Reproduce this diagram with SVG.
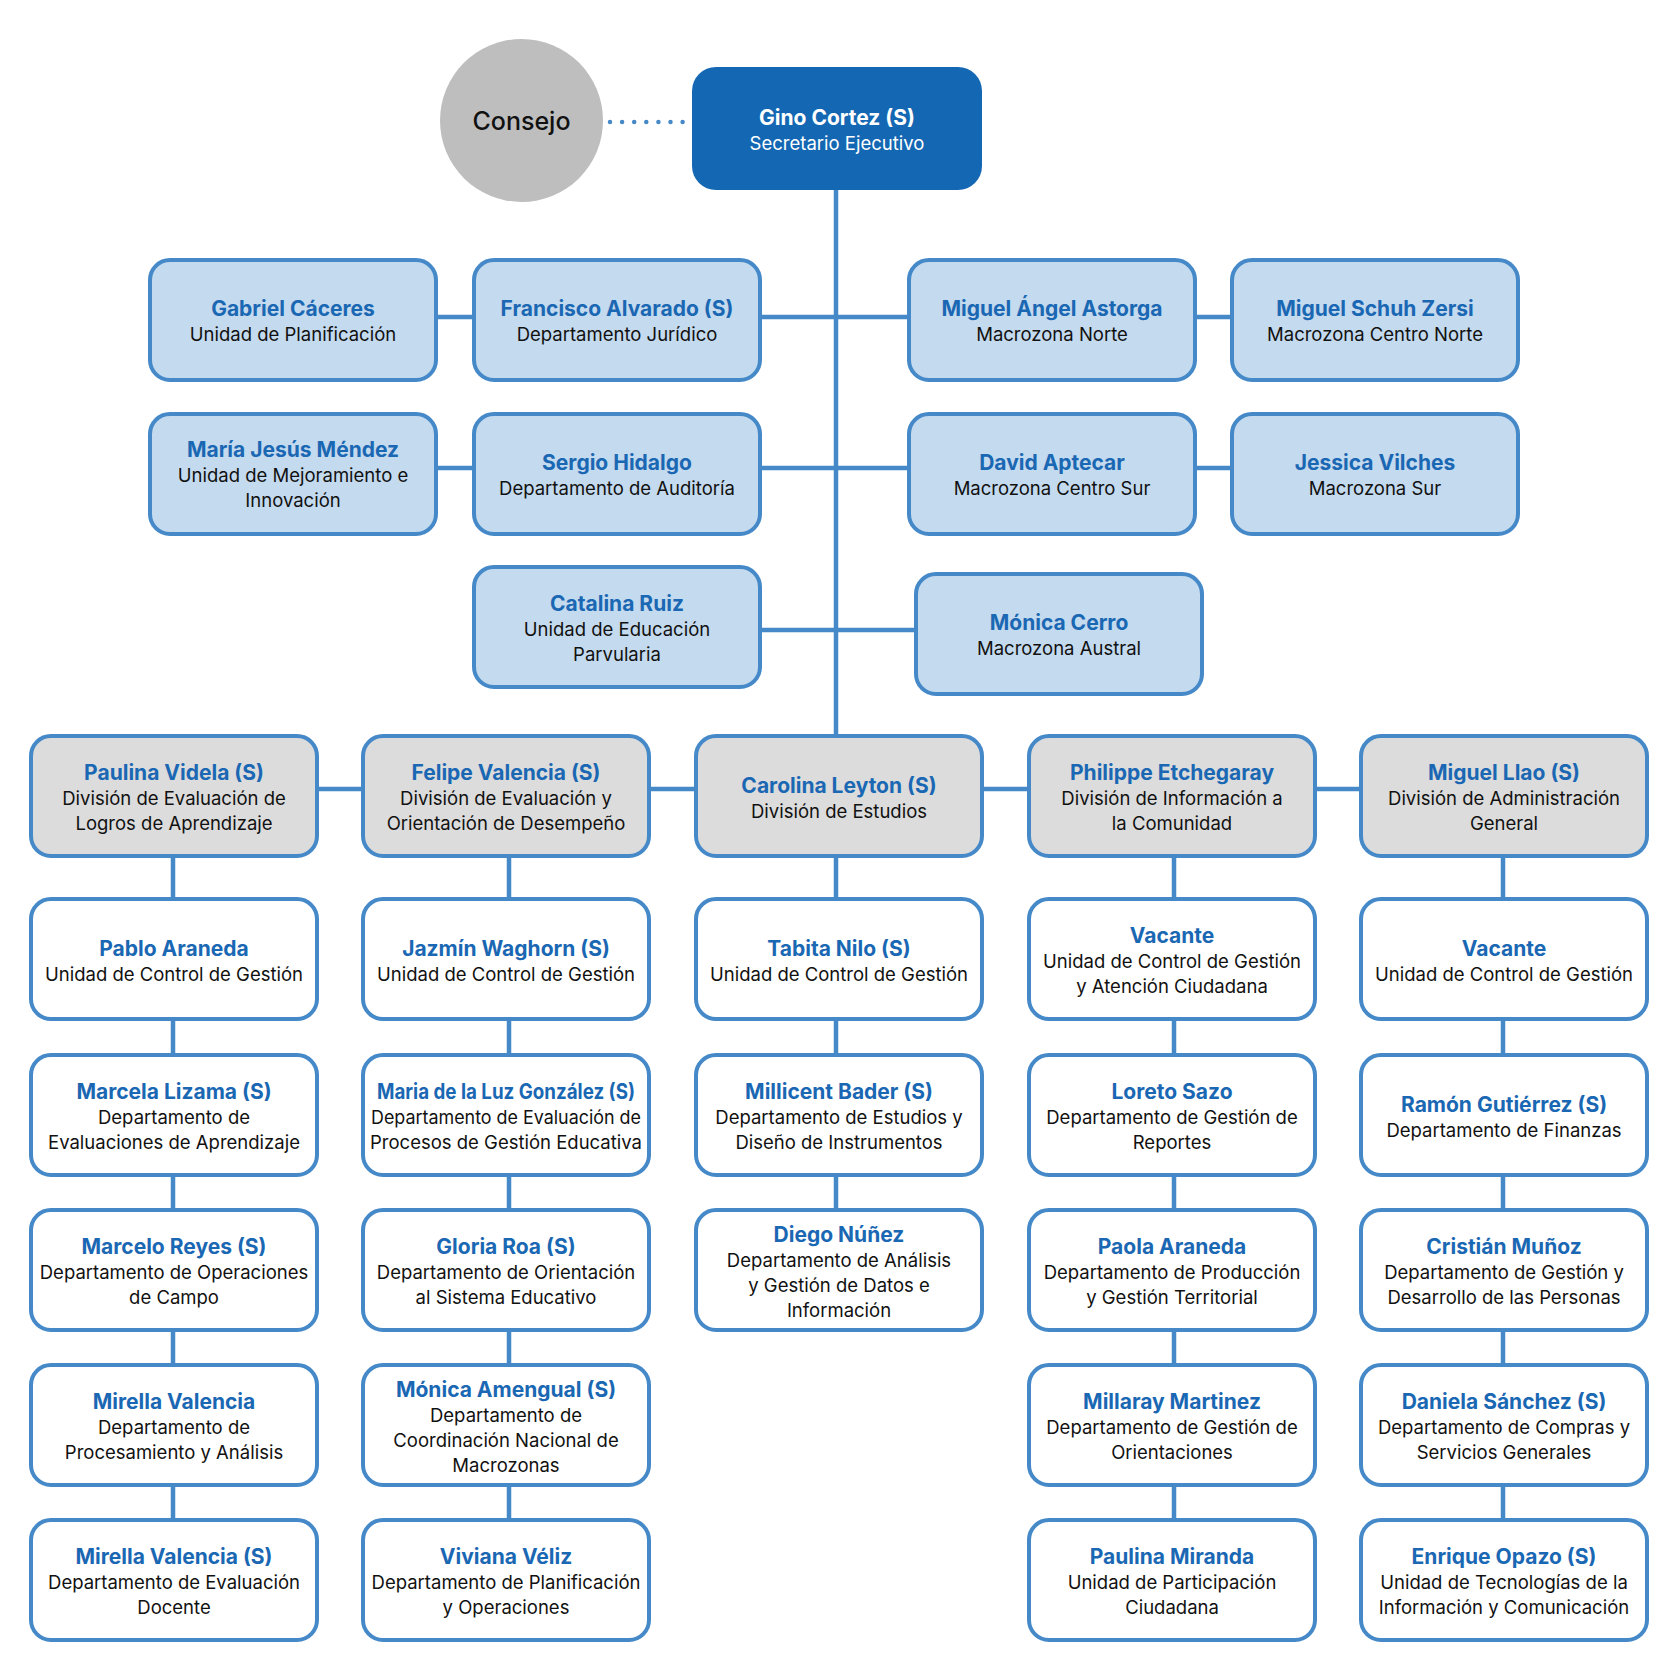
<svg xmlns="http://www.w3.org/2000/svg" width="1667" height="1667" viewBox="0 0 1667 1667">
<style>
text{font-family:Inter,"Noto Sans","Liberation Sans",sans-serif;text-anchor:middle}
.nm{font-weight:700;font-size:21px;fill:#1A67B3}
.sb{font-size:18.5px;fill:#111}
.lb{fill:#C4DAEE;stroke:#4589C8;stroke-width:4}
.gr{fill:#DCDCDC;stroke:#4589C8;stroke-width:4}
.wh{fill:#FFFFFF;stroke:#4589C8;stroke-width:4}
.cn{stroke:#4589C8;stroke-width:4.5;fill:none}
</style>
<rect width="1667" height="1667" fill="#fff"/>
<g id="connectors">
<path class="cn" d="M610 122H685" stroke-width="7.5" stroke-linecap="round" stroke-dasharray="0 12.1"/>
<path class="cn" d="M836 190V736"/>
<path class="cn" d="M436 317H1232"/>
<path class="cn" d="M436 468H1232"/>
<path class="cn" d="M760 630H916"/>
<path class="cn" d="M317 789H1361"/>
<path class="cn" d="M173 856V1520"/>
<path class="cn" d="M509 856V1520"/>
<path class="cn" d="M836 856V1210"/>
<path class="cn" d="M1174 856V1520"/>
<path class="cn" d="M1503 856V1520"/>
</g>
<g id="consejo"><circle cx="521.5" cy="120.5" r="81.5" fill="#BEBEBE"/><text x="521.5" y="130" font-size="25" font-weight="500" fill="#111">Consejo</text></g>
<g id="gino"><rect x="692" y="67" width="290" height="123" rx="24" fill="#1467B3"/><text class="nm" x="837" y="125" style="fill:#fff">Gino Cortez (S)</text><text class="sb" x="837" y="150" style="fill:#fff">Secretario Ejecutivo</text></g>

<g id="gabriel"><rect class="lb" x="150" y="260" width="286" height="120" rx="20"/><text class="nm" x="293" y="316">Gabriel Cáceres</text><text class="sb" x="293" y="341">Unidad de Planificación</text></g>
<g id="francisco"><rect class="lb" x="474" y="260" width="286" height="120" rx="20"/><text class="nm" x="617" y="316">Francisco Alvarado (S)</text><text class="sb" x="617" y="341">Departamento Jurídico</text></g>
<g id="miguel-angel"><rect class="lb" x="909" y="260" width="286" height="120" rx="20"/><text class="nm" x="1052" y="316">Miguel Ángel Astorga</text><text class="sb" x="1052" y="341">Macrozona Norte</text></g>
<g id="miguel-schuh"><rect class="lb" x="1232" y="260" width="286" height="120" rx="20"/><text class="nm" x="1375" y="316">Miguel Schuh Zersi</text><text class="sb" x="1375" y="341">Macrozona Centro Norte</text></g>

<g id="maria-jesus"><rect class="lb" x="150" y="414" width="286" height="120" rx="20"/><text class="nm" x="293" y="457">María Jesús Méndez</text><text class="sb" x="293" y="482">Unidad de Mejoramiento e</text><text class="sb" x="293" y="507">Innovación</text></g>
<g id="sergio"><rect class="lb" x="474" y="414" width="286" height="120" rx="20"/><text class="nm" x="617" y="470">Sergio Hidalgo</text><text class="sb" x="617" y="495">Departamento de Auditoría</text></g>
<g id="david"><rect class="lb" x="909" y="414" width="286" height="120" rx="20"/><text class="nm" x="1052" y="470">David Aptecar</text><text class="sb" x="1052" y="495">Macrozona Centro Sur</text></g>
<g id="jessica"><rect class="lb" x="1232" y="414" width="286" height="120" rx="20"/><text class="nm" x="1375" y="470">Jessica Vilches</text><text class="sb" x="1375" y="495">Macrozona Sur</text></g>

<g id="catalina"><rect class="lb" x="474" y="567" width="286" height="120" rx="20"/><text class="nm" x="617" y="611">Catalina Ruiz</text><text class="sb" x="617" y="636">Unidad de Educación</text><text class="sb" x="617" y="661">Parvularia</text></g>
<g id="monica-cerro"><rect class="lb" x="916" y="574" width="286" height="120" rx="20"/><text class="nm" x="1059" y="630">Mónica Cerro</text><text class="sb" x="1059" y="655">Macrozona Austral</text></g>

<g id="paulina-videla"><rect class="gr" x="31" y="736" width="286" height="120" rx="20"/><text class="nm" x="174" y="780">Paulina Videla (S)</text><text class="sb" x="174" y="805">División de Evaluación de</text><text class="sb" x="174" y="830">Logros de Aprendizaje</text></g>
<g id="felipe"><rect class="gr" x="363" y="736" width="286" height="120" rx="20"/><text class="nm" x="506" y="780">Felipe Valencia (S)</text><text class="sb" x="506" y="805">División de Evaluación y</text><text class="sb" x="506" y="830">Orientación de Desempeño</text></g>
<g id="carolina"><rect class="gr" x="696" y="736" width="286" height="120" rx="20"/><text class="nm" x="839" y="793">Carolina Leyton (S)</text><text class="sb" x="839" y="818">División de Estudios</text></g>
<g id="philippe"><rect class="gr" x="1029" y="736" width="286" height="120" rx="20"/><text class="nm" x="1172" y="780">Philippe Etchegaray</text><text class="sb" x="1172" y="805">División de Información a</text><text class="sb" x="1172" y="830">la Comunidad</text></g>
<g id="miguel-llao"><rect class="gr" x="1361" y="736" width="286" height="120" rx="20"/><text class="nm" x="1504" y="780">Miguel Llao (S)</text><text class="sb" x="1504" y="805">División de Administración</text><text class="sb" x="1504" y="830">General</text></g>

<g id="pablo"><rect class="wh" x="31" y="899" width="286" height="120" rx="20"/><text class="nm" x="174" y="956">Pablo Araneda</text><text class="sb" x="174" y="981">Unidad de Control de Gestión</text></g>
<g id="marcela"><rect class="wh" x="31" y="1055" width="286" height="120" rx="20"/><text class="nm" x="174" y="1099">Marcela Lizama (S)</text><text class="sb" x="174" y="1124">Departamento de</text><text class="sb" x="174" y="1149">Evaluaciones de Aprendizaje</text></g>
<g id="marcelo"><rect class="wh" x="31" y="1210" width="286" height="120" rx="20"/><text class="nm" x="174" y="1254">Marcelo Reyes (S)</text><text class="sb" x="174" y="1279">Departamento de Operaciones</text><text class="sb" x="174" y="1304">de Campo</text></g>
<g id="mirella-1"><rect class="wh" x="31" y="1365" width="286" height="120" rx="20"/><text class="nm" x="174" y="1409">Mirella Valencia</text><text class="sb" x="174" y="1434">Departamento de</text><text class="sb" x="174" y="1459">Procesamiento y Análisis</text></g>
<g id="mirella-2"><rect class="wh" x="31" y="1520" width="286" height="120" rx="20"/><text class="nm" x="174" y="1564">Mirella Valencia (S)</text><text class="sb" x="174" y="1589">Departamento de Evaluación</text><text class="sb" x="174" y="1614">Docente</text></g>

<g id="jazmin"><rect class="wh" x="363" y="899" width="286" height="120" rx="20"/><text class="nm" x="506" y="956">Jazmín Waghorn (S)</text><text class="sb" x="506" y="981">Unidad de Control de Gestión</text></g>
<g id="maria-luz"><rect class="wh" x="363" y="1055" width="286" height="120" rx="20"/><text class="nm" x="506" y="1099" textLength="258" lengthAdjust="spacingAndGlyphs">Maria de la Luz González (S)</text><text class="sb" x="506" y="1124" textLength="270" lengthAdjust="spacingAndGlyphs">Departamento de Evaluación de</text><text class="sb" x="506" y="1149">Procesos de Gestión Educativa</text></g>
<g id="gloria"><rect class="wh" x="363" y="1210" width="286" height="120" rx="20"/><text class="nm" x="506" y="1254">Gloria Roa (S)</text><text class="sb" x="506" y="1279">Departamento de Orientación</text><text class="sb" x="506" y="1304">al Sistema Educativo</text></g>
<g id="monica-amengual"><rect class="wh" x="363" y="1365" width="286" height="120" rx="20"/><text class="nm" x="506" y="1397">Mónica Amengual (S)</text><text class="sb" x="506" y="1422">Departamento de</text><text class="sb" x="506" y="1447">Coordinación Nacional de</text><text class="sb" x="506" y="1472">Macrozonas</text></g>
<g id="viviana"><rect class="wh" x="363" y="1520" width="286" height="120" rx="20"/><text class="nm" x="506" y="1564">Viviana Véliz</text><text class="sb" x="506" y="1589">Departamento de Planificación</text><text class="sb" x="506" y="1614">y Operaciones</text></g>

<g id="tabita"><rect class="wh" x="696" y="899" width="286" height="120" rx="20"/><text class="nm" x="839" y="956">Tabita Nilo (S)</text><text class="sb" x="839" y="981">Unidad de Control de Gestión</text></g>
<g id="millicent"><rect class="wh" x="696" y="1055" width="286" height="120" rx="20"/><text class="nm" x="839" y="1099">Millicent Bader (S)</text><text class="sb" x="839" y="1124">Departamento de Estudios y</text><text class="sb" x="839" y="1149">Diseño de Instrumentos</text></g>
<g id="diego"><rect class="wh" x="696" y="1210" width="286" height="120" rx="20"/><text class="nm" x="839" y="1242">Diego Núñez</text><text class="sb" x="839" y="1267">Departamento de Análisis</text><text class="sb" x="839" y="1292">y Gestión de Datos e</text><text class="sb" x="839" y="1317">Información</text></g>

<g id="vacante-4"><rect class="wh" x="1029" y="899" width="286" height="120" rx="20"/><text class="nm" x="1172" y="943">Vacante</text><text class="sb" x="1172" y="968">Unidad de Control de Gestión</text><text class="sb" x="1172" y="993">y Atención Ciudadana</text></g>
<g id="loreto"><rect class="wh" x="1029" y="1055" width="286" height="120" rx="20"/><text class="nm" x="1172" y="1099">Loreto Sazo</text><text class="sb" x="1172" y="1124">Departamento de Gestión de</text><text class="sb" x="1172" y="1149">Reportes</text></g>
<g id="paola"><rect class="wh" x="1029" y="1210" width="286" height="120" rx="20"/><text class="nm" x="1172" y="1254">Paola Araneda</text><text class="sb" x="1172" y="1279">Departamento de Producción</text><text class="sb" x="1172" y="1304">y Gestión Territorial</text></g>
<g id="millaray"><rect class="wh" x="1029" y="1365" width="286" height="120" rx="20"/><text class="nm" x="1172" y="1409">Millaray Martinez</text><text class="sb" x="1172" y="1434">Departamento de Gestión de</text><text class="sb" x="1172" y="1459">Orientaciones</text></g>
<g id="paulina-miranda"><rect class="wh" x="1029" y="1520" width="286" height="120" rx="20"/><text class="nm" x="1172" y="1564">Paulina Miranda</text><text class="sb" x="1172" y="1589">Unidad de Participación</text><text class="sb" x="1172" y="1614">Ciudadana</text></g>

<g id="vacante-5"><rect class="wh" x="1361" y="899" width="286" height="120" rx="20"/><text class="nm" x="1504" y="956">Vacante</text><text class="sb" x="1504" y="981">Unidad de Control de Gestión</text></g>
<g id="ramon"><rect class="wh" x="1361" y="1055" width="286" height="120" rx="20"/><text class="nm" x="1504" y="1112">Ramón Gutiérrez (S)</text><text class="sb" x="1504" y="1137">Departamento de Finanzas</text></g>
<g id="cristian"><rect class="wh" x="1361" y="1210" width="286" height="120" rx="20"/><text class="nm" x="1504" y="1254">Cristián Muñoz</text><text class="sb" x="1504" y="1279">Departamento de Gestión y</text><text class="sb" x="1504" y="1304">Desarrollo de las Personas</text></g>
<g id="daniela"><rect class="wh" x="1361" y="1365" width="286" height="120" rx="20"/><text class="nm" x="1504" y="1409">Daniela Sánchez (S)</text><text class="sb" x="1504" y="1434">Departamento de Compras y</text><text class="sb" x="1504" y="1459">Servicios Generales</text></g>
<g id="enrique"><rect class="wh" x="1361" y="1520" width="286" height="120" rx="20"/><text class="nm" x="1504" y="1564">Enrique Opazo (S)</text><text class="sb" x="1504" y="1589">Unidad de Tecnologías de la</text><text class="sb" x="1504" y="1614">Información y Comunicación</text></g>
</svg>
